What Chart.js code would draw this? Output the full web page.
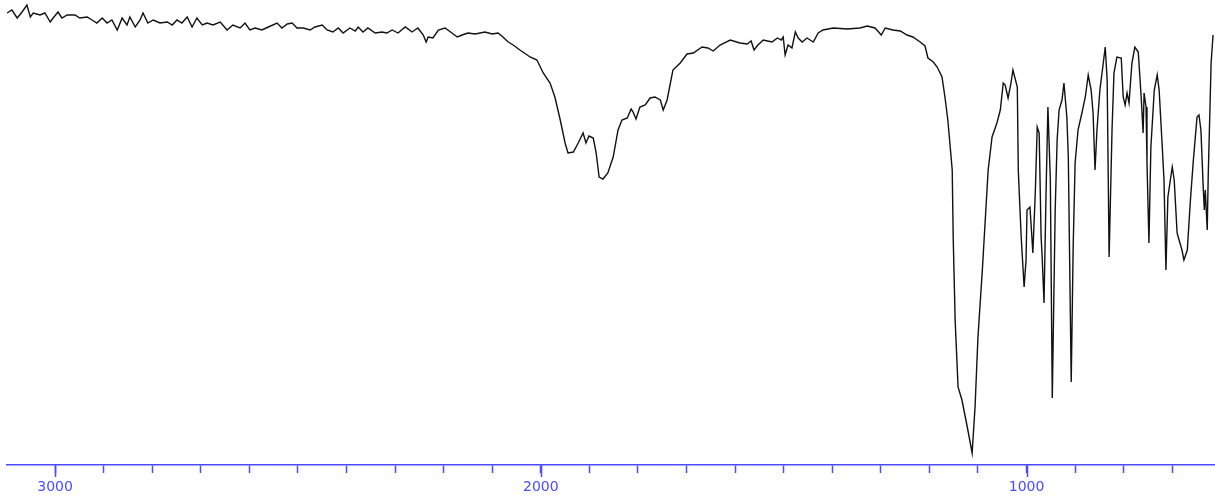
<!DOCTYPE html>
<html>
<head>
<meta charset="utf-8">
<script src="https://cdn.jsdelivr.net/npm/chart.js@4/dist/chart.umd.min.js"></script>
<style>
  html, body { margin: 0; padding: 0; background: #fff; }
  #wrap { width: 1215px; height: 497px; }
</style>
</head>
<body>
<div id="wrap"><canvas id="irChart" width="1215" height="497"></canvas></div>
<script>
// IR spectrum (wavenumber in cm-1, transmittance in arbitrary %)
const wavenumbers = [
  3099, 3089, 3078, 3068, 3058, 3051, 3045, 3031, 3021, 3010, 3004, 2994, 2986, 2975, 2959, 2949,
  2934, 2924, 2914, 2903, 2893, 2883, 2872, 2862, 2852, 2846, 2835, 2825, 2819, 2809, 2798, 2784,
  2769, 2759, 2749, 2739, 2728, 2718, 2708, 2697, 2687, 2675, 2660, 2646, 2634, 2619, 2609, 2599,
  2588, 2574, 2561, 2543, 2533, 2522, 2512, 2502, 2489, 2475, 2465, 2450, 2440, 2428, 2417, 2407,
  2393, 2382, 2376, 2366, 2356, 2341, 2327, 2317, 2306, 2294, 2279, 2265, 2253, 2242, 2236, 2232,
  2222, 2211, 2197, 2183, 2172, 2162, 2150, 2135, 2115, 2100, 2088, 2078, 2067, 2057, 2043, 2022,
  2008, 1995, 1981, 1971, 1960, 1950, 1944, 1933, 1923, 1913, 1907, 1901, 1892, 1886, 1880, 1872,
  1862, 1851, 1841, 1833, 1822, 1814, 1810, 1804, 1796, 1785, 1775, 1765, 1754, 1748, 1740, 1728,
  1713, 1699, 1686, 1668, 1656, 1645, 1631, 1610, 1590, 1575, 1567, 1561, 1553, 1542, 1524, 1513,
  1505, 1501, 1497, 1491, 1483, 1476, 1470, 1462, 1452, 1439, 1429, 1419, 1398, 1369, 1343, 1328,
  1312, 1299, 1291, 1275, 1260, 1246, 1234, 1219, 1209, 1203, 1192, 1184, 1174, 1168, 1162, 1153,
  1151, 1147, 1141, 1133, 1122, 1112, 1106, 1100, 1091, 1085, 1079, 1071, 1061, 1054, 1048, 1044,
  1038, 1032, 1028, 1019, 1017, 1011, 1005, 1001, 999, 993, 989, 987, 982, 978, 974, 970,
  968, 964, 960, 956, 951, 947, 941, 937, 933, 927, 923, 917, 914, 908, 904, 900,
  894, 886, 879, 873, 867, 863, 859, 855, 849, 842, 838, 834, 830, 824, 820, 814,
  805, 801, 797, 793, 789, 783, 777, 770, 764, 760, 758, 754, 752, 748, 744, 737,
  731, 727, 721, 717, 713, 709, 700, 696, 690, 686, 680, 676, 669, 663, 657, 649,
  645, 641, 636, 634, 632, 628, 626, 620, 616
];
const transmittance = [
  90.4, 91.0, 89.4, 90.6, 92.0, 89.6, 90.4, 90.0, 90.4, 88.6, 89.4, 90.6, 89.4, 90.0, 90.0, 89.4,
  89.6, 89.0, 88.4, 89.4, 88.4, 89.0, 87.0, 89.4, 88.0, 89.6, 87.6, 89.0, 90.4, 88.4, 89.0, 88.4,
  88.6, 88.0, 89.0, 88.4, 89.6, 87.6, 89.4, 88.0, 88.4, 88.0, 88.6, 87.0, 88.0, 87.4, 88.4, 87.0,
  87.4, 87.0, 87.6, 88.4, 87.4, 88.2, 88.4, 87.4, 87.4, 87.0, 87.6, 88.0, 87.0, 86.6, 87.4, 86.4,
  87.4, 86.8, 87.6, 86.6, 87.4, 86.4, 86.6, 86.4, 87.0, 86.4, 87.6, 86.6, 87.4, 86.0, 84.6, 85.6,
  85.4, 87.0, 87.4, 86.4, 85.6, 86.0, 86.4, 86.2, 86.6, 86.2, 86.4, 85.6, 84.6, 84.0, 83.0, 81.6,
  81.0, 78.4, 76.4, 73.6, 69.0, 64.4, 62.4, 62.6, 64.4, 66.4, 64.4, 65.8, 65.4, 62.4, 57.6, 57.2,
  58.4, 61.6, 67.0, 69.0, 69.4, 71.2, 70.6, 69.2, 71.6, 72.0, 73.4, 73.6, 73.0, 71.0, 73.0, 79.0,
  80.4, 82.2, 82.4, 83.6, 83.4, 82.8, 84.0, 85.0, 84.4, 84.2, 84.8, 83.0, 84.0, 85.0, 84.6, 85.4,
  85.0, 85.6, 82.0, 84.0, 83.4, 86.6, 85.4, 84.6, 85.4, 84.6, 86.4, 87.0, 87.4, 87.2, 87.4, 87.8,
  87.4, 86.0, 87.4, 87.0, 86.8, 86.0, 85.6, 84.6, 83.8, 81.4, 80.6, 79.6, 77.6, 73.6, 69.0, 59.0,
  45.6, 29.0, 15.6, 13.0, 7.6, 2.4, 11.6, 25.6, 39.0, 49.0, 59.0, 65.6, 68.4, 71.0, 76.4, 76.0,
  73.4, 76.4, 79.0, 75.6, 59.0, 45.6, 35.6, 41.0, 51.0, 51.6, 45.6, 42.4, 54.4, 67.6, 66.4, 45.6,
  42.0, 32.4, 53.6, 71.6, 57.0, 13.4, 51.0, 65.0, 71.0, 73.0, 76.4, 69.6, 61.6, 16.6, 43.6, 60.4,
  67.0, 70.4, 73.6, 78.0, 75.0, 70.4, 59.0, 67.0, 75.0, 80.4, 83.6, 77.0, 41.6, 67.0, 78.4, 81.6,
  81.4, 73.6, 72.0, 74.4, 72.4, 80.4, 83.6, 82.6, 73.6, 66.4, 74.4, 71.6, 60.4, 44.4, 63.6, 75.0,
  78.0, 75.0, 64.4, 57.0, 39.0, 53.6, 59.6, 57.0, 46.4, 45.0, 43.0, 41.0, 43.0, 52.4, 60.4, 69.6,
  70.0, 67.0, 55.0, 51.0, 55.0, 47.0, 57.6, 80.4, 86.0
];
const labelledTicks = [3000, 2000, 1000];

const axisBlue = '#4a4aff';

// longer ticks under the labelled wavenumbers
const majorTicks = {
  id: 'majorTicks',
  afterDraw(chart) {
    const sc = chart.scales.x;
    const ctx = chart.ctx;
    ctx.save();
    ctx.strokeStyle = axisBlue;
    ctx.lineWidth = 1.5;
    labelledTicks.forEach(v => {
      const px = Math.round(sc.getPixelForValue(v)) + 0.5;
      ctx.beginPath();
      ctx.moveTo(px, sc.top);
      ctx.lineTo(px, sc.top + 12);
      ctx.stroke();
    });
    ctx.restore();
  }
};

const points = wavenumbers.map((w, i) => ({ x: w, y: transmittance[i] }));

new Chart(document.getElementById('irChart').getContext('2d'), {
  type: 'line',
  data: {
    datasets: [{
      data: points,
      borderColor: '#111',
      borderWidth: 1.4,
      pointRadius: 0,
      tension: 0,
      fill: false
    }]
  },
  options: {
    responsive: false,
    animation: false,
    layout: { padding: { left: 7, right: 0, top: 0, bottom: 0 } },
    plugins: { legend: { display: false }, tooltip: { enabled: false } },
    scales: {
      x: {
        type: 'linear',
        reverse: true,
        min: 612,
        max: 3099,
        afterFit: scale => { scale.height = 32; },
        border: { display: true, color: axisBlue, width: 1.5 },
        grid: { drawOnChartArea: false, drawTicks: true, tickLength: 8, tickColor: axisBlue, tickWidth: 1.5 },
        ticks: {
          stepSize: 100,
          includeBounds: false,
          autoSkip: false,
          maxRotation: 0,
          padding: 6,
          color: axisBlue,
          font: { family: "'DejaVu Sans', sans-serif", size: 14 },
          callback: v => labelledTicks.includes(v) ? String(v) : ''
        }
      },
      y: {
        display: false,
        min: 0,
        max: 93
      }
    }
  },
  plugins: [majorTicks]
});
</script>
</body>
</html>
